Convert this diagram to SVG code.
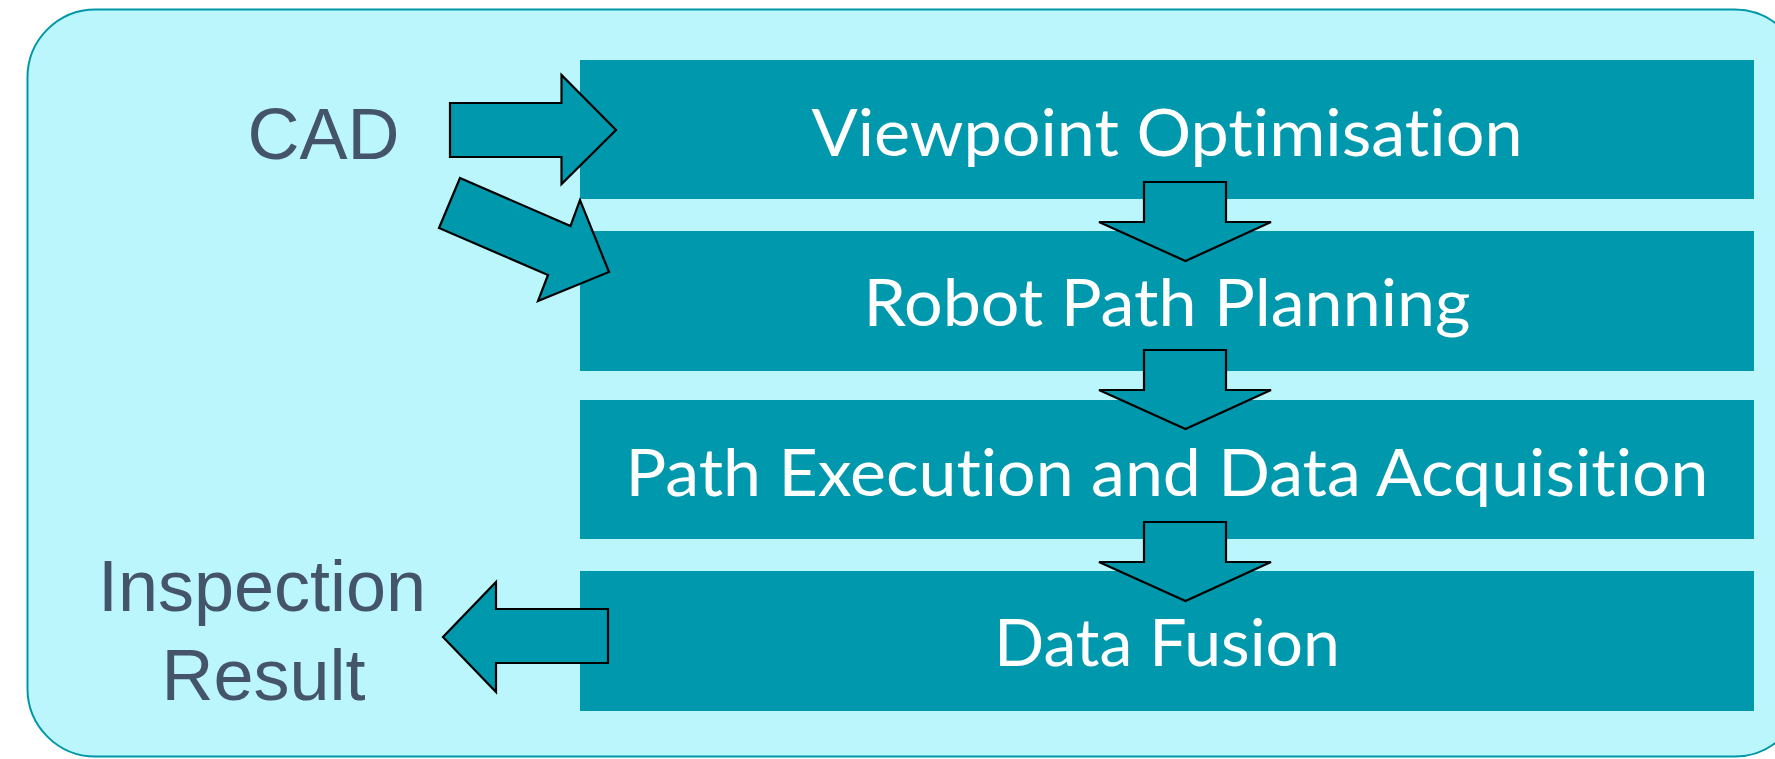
<svg xmlns="http://www.w3.org/2000/svg" width="1775" height="759" viewBox="0 0 1775 759">
<style>
.bg{fill:#BBF6FD;stroke:#0097A7;stroke-width:2}
.box{fill:#0098AD}
.arr{fill:#0098AD;stroke:#000;stroke-width:2.2;stroke-linejoin:miter}
.lbl{font-family:Lato,"Open Sans",sans-serif;font-size:66px;fill:#fff;text-anchor:middle;font-variant-ligatures:none;font-feature-settings:"liga" 0,"dlig" 0}
.side{font-family:"Liberation Sans",Arial,sans-serif;font-size:72px;fill:#44546A;text-anchor:middle}
</style>
<rect width="1775" height="759" fill="#fff"/>
<rect class="bg" x="27.5" y="9.5" width="1775" height="747" rx="68" ry="68"/>
<g id="n1"><rect class="box" x="580" y="60" width="1174" height="139"/><text class="lbl" x="1167" y="156" textLength="711" lengthAdjust="spacingAndGlyphs">Viewpoint Optimisation</text></g>
<g id="n2"><rect class="box" x="580" y="231" width="1174" height="140"/><text class="lbl" x="1167" y="326" textLength="607" lengthAdjust="spacingAndGlyphs">Robot Path Planning</text></g>
<g id="n3"><rect class="box" x="580" y="400" width="1174" height="139"/><text class="lbl" x="1167" y="496" textLength="1083" lengthAdjust="spacingAndGlyphs">Path Execution and Data Acquisition</text></g>
<g id="n4"><rect class="box" x="580" y="571" width="1174" height="140"/><text class="lbl" x="1167" y="666" textLength="346" lengthAdjust="spacingAndGlyphs">Data Fusion</text></g>
<g id="cad"><text class="side" x="323.5" y="159">CAD</text></g>
<g id="result"><text class="side" x="262" y="611">Inspection</text><text class="side" x="263.5" y="700">Result</text></g>
<g id="connectors">
<polygon class="arr" points="450,103 561.5,103 561.5,75 616,130 561.5,184 561.5,157 450,157"/>
<polygon class="arr" points="460,178 570.5,226 580,200 609,272 538,301 548,275 439,228"/>
<polygon class="arr" points="1144,182 1226,182 1226,222 1271,222 1185.5,261 1099,222 1144,222"/>
<polygon class="arr" points="1144,350 1226,350 1226,390 1271,390 1185.5,429 1099,390 1144,390"/>
<polygon class="arr" points="1144,522 1226,522 1226,562 1271,562 1185.5,601 1099,562 1144,562"/>
<polygon class="arr" points="608,609 496,609 496,582 443,637 496,692 496,663 608,663"/>
</g>
</svg>
